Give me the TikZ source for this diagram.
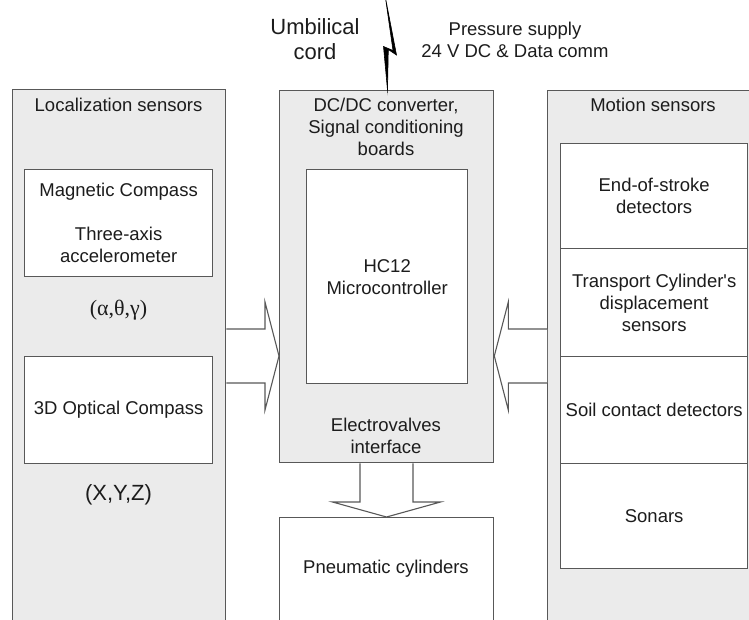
\documentclass[tikz,border=0pt]{standalone}
\usepackage{fontspec}
\setmainfont{Liberation Sans}
\newfontfamily\symfont{Liberation Serif}
\usetikzlibrary{calc}
\definecolor{edge}{HTML}{585858}
\definecolor{panelfill}{HTML}{EBEBEB}
\definecolor{ink}{HTML}{1C1C1C}
\tikzset{
  panel/.style={draw=edge, fill=panelfill, line width=1.3pt, anchor=north west, inner sep=0pt},
  unit/.style={draw=edge, fill=white, line width=1.3pt, anchor=north west, inner sep=0pt},
  lbl/.style={text=ink, align=center, inner sep=0pt, font=\fontsize{18.5}{22}\selectfont},
  biglbl/.style={text=ink, align=center, inner sep=0pt, font=\fontsize{22}{25}\selectfont},
  blockarrow/.style={draw=edge, fill=white, line width=1.1pt, line join=miter},
  bolt/.style={fill=black, draw=black, line width=0.6pt, line join=miter, miter limit=20}
}
\begin{document}
\begin{tikzpicture}[x=1pt, y=-1pt]
\useasboundingbox (0,0) rectangle (749,619);
\clip (0,0) rectangle (749,619);

% three main columns
\node[panel, minimum width=213pt, minimum height=570pt] (locpanel) at (12,89) {};
\node[panel, minimum width=214pt, minimum height=372pt] (ctrl) at (279,90) {};
\node[panel, minimum width=213pt, minimum height=570pt] (motpanel) at (547,90) {};

% localization sensors
\node[lbl] (loctitle) at (118.5,105) {Localization sensors};
\node[unit, minimum width=188pt, minimum height=107pt] (magbox) at (24,169) {};
\node[lbl] (magtxt) at (magbox.center) {Magnetic Compass\\[22pt]Three-axis\\accelerometer};
\node[biglbl] (angles) at (118.5,310) {\symfont(α,θ,γ)};
\node[unit, minimum width=188pt, minimum height=107pt] (optbox) at (24,356) {};
\node[lbl] (opttxt) at (optbox.center) {3D Optical Compass};
\node[biglbl] (xyz) at (118.5,495) {(X,Y,Z)};

% controller column
\node[lbl] (ctrltitle) at (386,127) {DC/DC converter,\\Signal conditioning\\boards};
\node[unit, minimum width=161pt, minimum height=214pt] (mcu) at (306,169) {};
\node[lbl] (mcutxt) at (mcu.center) {HC12\\Microcontroller};
\node[lbl] (evtxt) at (386,435.5) {Electrovalves\\interface};
\node[unit, minimum width=214pt, minimum height=140pt] (pneu) at (279,517) {};
\node[lbl] (pneutxt) at (386,569) {Pneumatic cylinders};

% motion sensors
\node[lbl] (mottitle) at (653,105) {Motion sensors};
\node[unit, minimum width=187pt, minimum height=105pt] (eos) at (560,143) {};
\node[lbl] at (eos.center) {End-of-stroke\\detectors};
\node[unit, minimum width=187pt, minimum height=108pt] (tcd) at (560,248) {};
\node[lbl] at (tcd.center) {Transport Cylinder\textquotesingle s\\displacement\\sensors};
\node[unit, minimum width=187pt, minimum height=107pt] (soil) at (560,356) {};
\node[lbl] at (soil.center) {Soil contact detectors};
\node[unit, minimum width=187pt, minimum height=105pt] (sonar) at (560,463) {};
\node[lbl] at (sonar.center) {Sonars};

% top labels and umbilical cord (tapered lightning bolt)
\node[biglbl] (umb) at (315,39.5) {Umbilical\\cord};
\node[lbl] (supply) at (515,40) {Pressure supply\\24 V DC \& Data comm};
\coordinate (cordtop) at (385.5,-2);
\coordinate (cordend) at (ctrl.north -| 387.5,0);
\draw[bolt] (cordtop) -- (396.5,55) -- (388.3,49.5) -- (cordend)
  -- (383.5,46.5) -- (393,50.5) -- cycle;

% block arrows into the controller
\coordinate (la0) at (locpanel.east |- 0,356);
\coordinate (la1) at (ctrl.west |- 0,356);
\draw[blockarrow] ($(la0)+(0,-27)$) -- ($(la1)+(-14,-27)$) -- ($(la1)+(-14,-54)$)
  -- (la1) -- ($(la1)+(-14,54)$) -- ($(la1)+(-14,27)$) -- ($(la0)+(0,27)$);
\coordinate (ra0) at (motpanel.west |- 0,356);
\coordinate (ra1) at (ctrl.east |- 0,356);
\draw[blockarrow] ($(ra0)+(0,-27)$) -- ($(ra1)+(14,-27)$) -- ($(ra1)+(14,-54)$)
  -- (ra1) -- ($(ra1)+(14,54)$) -- ($(ra1)+(14,27)$) -- ($(ra0)+(0,27)$);

% block arrow down to the cylinders
\coordinate (da0) at (ctrl.south -| 386.5,0);
\coordinate (da1) at (pneu.north -| 386.5,0);
\draw[blockarrow] ($(da0)+(-26.5,0)$) -- ($(da1)+(-26.5,-15)$) -- ($(da1)+(-54,-15)$)
  -- (da1) -- ($(da1)+(54,-15)$) -- ($(da1)+(26.5,-15)$) -- ($(da0)+(26.5,0)$);
\end{tikzpicture}
\end{document}
